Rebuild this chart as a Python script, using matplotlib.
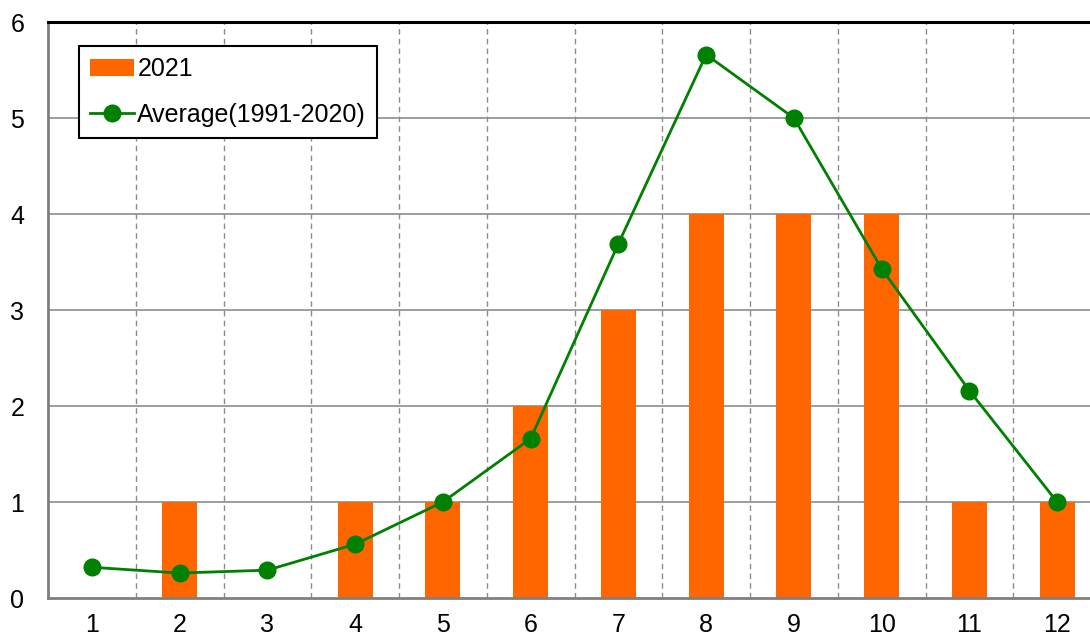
import numpy as np
import matplotlib.pyplot as plt

plt.rcParams['font.family'] = ['Liberation Sans', 'DejaVu Sans']

months = list(range(1, 13))
counts_2021 = [0, 1, 0, 1, 1, 2, 3, 4, 4, 4, 1, 1]
average = [0.32, 0.26, 0.29, 0.56, 1.0, 1.66, 3.69, 5.66, 5.0, 3.43, 2.16, 1.0]

fig = plt.figure(figsize=(10.9, 6.38), dpi=100)
ax = fig.add_axes([48 / 1090, 40 / 638, 1053 / 1090, 576 / 638])

x = np.arange(len(months))
bars = ax.bar(x, counts_2021, width=0.4, color='#ff6600', label='2021', zorder=2)
line, = ax.plot(x, average, color='#008000', lw=2, marker='o', ms=12,
                label='Average(1991-2020)', zorder=3)

ax.set_xlim(-0.5, len(months) - 0.5)
ax.set_ylim(0, 6)
ax.set_xticks(x)
ax.set_xticklabels(months)
ax.set_yticks(range(0, 7))
ax.tick_params(length=0, labelsize=18, pad=11)
ax.tick_params(axis='y', pad=17)

for yv in range(1, 6):
    ax.axhline(yv, color='#8c8c8c', lw=1.2, zorder=1)
for xv in np.arange(0.5, len(months) - 0.5, 1):
    ax.axvline(xv, color='#8c8c8c', lw=1, ls=(0, (4, 3)), zorder=1)

ax.spines['top'].set_color('black')
ax.spines['top'].set_linewidth(2.2)
for s in ('left', 'bottom'):
    ax.spines[s].set_color('#7f7f7f')
    ax.spines[s].set_linewidth(2)
ax.spines['right'].set_visible(False)

leg = ax.legend([bars, line], ['2021', 'Average(1991-2020)'],
                loc='upper left', bbox_to_anchor=(0.029, 0.958), fontsize=18,
                frameon=True, fancybox=False, edgecolor='black',
                borderpad=0.45, labelspacing=0.85, handlelength=1.75,
                handletextpad=0.15, borderaxespad=0, framealpha=1)
leg.get_frame().set_linewidth(1.5)

plt.savefig('out.png', dpi=100)
plt.close()
